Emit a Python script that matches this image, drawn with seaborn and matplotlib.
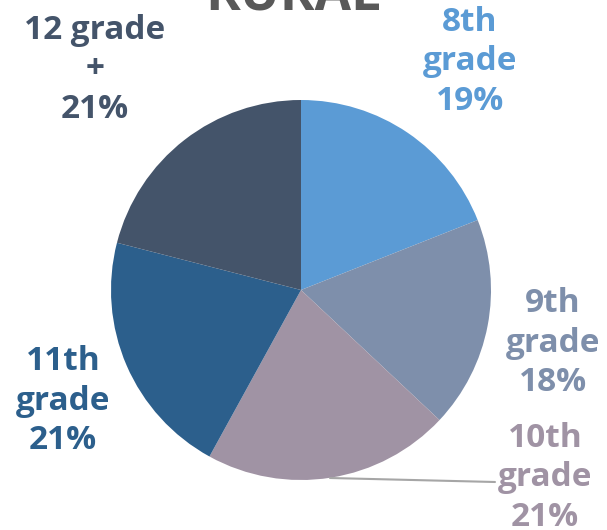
import matplotlib
matplotlib.use("Agg")
import matplotlib.pyplot as plt
import seaborn as sns

sns.set_theme(style="white")
plt.rcParams['font.family'] = ['Open Sans', 'DejaVu Sans']

categories = ["8th\ngrade", "9th\ngrade", "10th\ngrade", "11th\ngrade", "12 grade\n+"]
values = [19, 18, 21, 21, 21]
colors = ["#5B9BD5", "#7E8FAB", "#A093A4", "#2C5F8C", "#44546A"]
title = "RURAL"

W, H = 607, 530
cx, cy, R = 301, 290, 190

fig = plt.figure(figsize=(W / 100, H / 100), dpi=100)
ax = fig.add_axes([0, 0, 1, 1])
ax.pie(values, colors=colors, startangle=90, counterclock=False, radius=1,
       wedgeprops=dict(linewidth=0))
ax.set_xlim(-cx / R, (W - cx) / R)
ax.set_ylim(-(H - cy) / R, cy / R)
ax.set_aspect('equal')
ax.axis('off')

def d(px, py):
    return (px - cx) / R, (cy - py) / R

label_px = [(470, 62), (553, 343), (545, 478), (63, 401), (95, 70)]
for cat, v, col, (px, py) in zip(categories, values, colors, label_px):
    x, y = d(px, py)
    ax.text(x, y, f"{cat}\n{v}%", color=col, fontsize=24, fontweight='bold',
            ha='center', va='center', linespacing=1.25)

# leader line for 10th grade
x0, y0 = d(330, 478)
x1, y1 = d(495, 482)
ax.plot([x0, x1], [y0, y1], color="#A6A6A6", linewidth=1.5)

tx, ty = d(293, 10)
ax.text(tx, ty, title, color="#595959", fontsize=38, fontweight='bold',
        ha='center', va='baseline')

fig.savefig("out.png", dpi=100)
